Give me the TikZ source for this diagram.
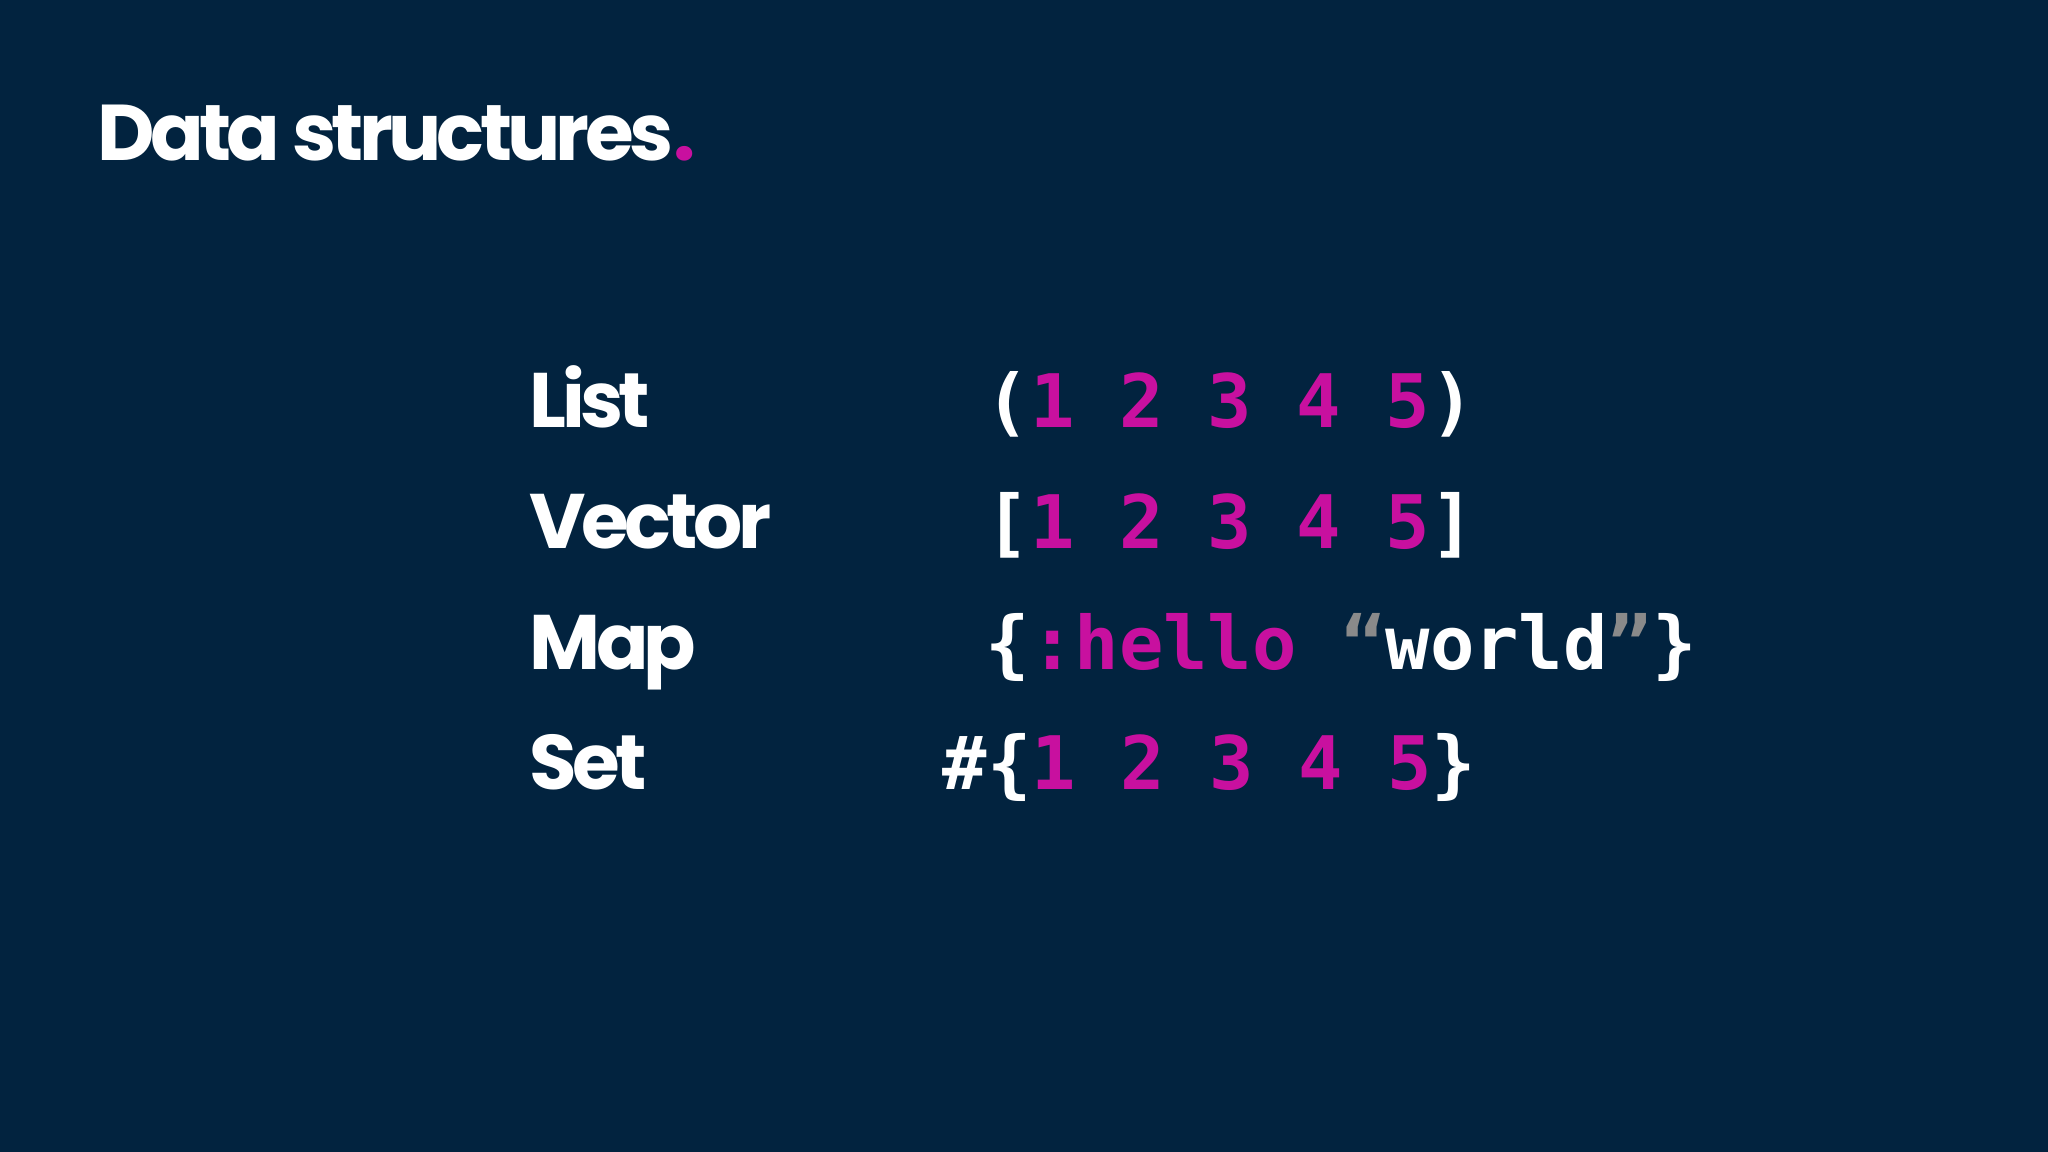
\documentclass[tikz,border=0pt]{standalone}
\usepackage{fontspec}
\setmainfont{Poppins}
\newfontfamily\headfont[LetterSpace=-6]{Poppins}
\setmonofont{DejaVu Sans Mono}
\usetikzlibrary{positioning}
\definecolor{bgblue}{HTML}{02233F}
\definecolor{clmag}{HTML}{C8109F}
\definecolor{qgray}{HTML}{8A8A8A}
\newcommand{\mg}[1]{\textcolor{clmag}{#1}}
\newcommand{\gq}[1]{\textcolor{qgray}{#1}}
\begin{document}
\begin{tikzpicture}
		\fill[bgblue] (0,0) rectangle (20.48,11.52);
		\useasboundingbox (0,0) rectangle (20.48,11.52);
		\tikzset{lbl/.style={anchor=base west,inner sep=0pt,text=white,font=\fontsize{22}{26}\headfont\bfseries},
		code/.style={anchor=base west,inner sep=0pt,text=white,font=\fontsize{21}{26}\ttfamily\bfseries}}
		\node[anchor=base west,inner sep=0pt,text=white,font=\fontsize{22.5}{28}\headfont\bfseries] (title) at (0.97,9.91) {Data structures\mg{.}};
		\node[lbl] (list) at (5.29,7.24) {List};
		\node[lbl] (vec) at (5.29,6.03) {Vector};
		\node[lbl] (map) at (5.29,4.82) {Map};
		\node[lbl] (set) at (5.29,3.62) {Set};
		\node[code] (listc) at (9.85,7.24) {(\mg{1 2 3 4 5})};
		\node[code] (vecc) at (9.85,6.03) {[\mg{1 2 3 4 5}]};
		\node[code] (mapc) at (9.85,4.82) {\{\mg{:hello} \gq{“}world\gq{”}\}};
		\node[code] (setc) at (9.42,3.62) {\#\{\mg{1 2 3 4 5}\}};
	\end{tikzpicture}
\end{document}
